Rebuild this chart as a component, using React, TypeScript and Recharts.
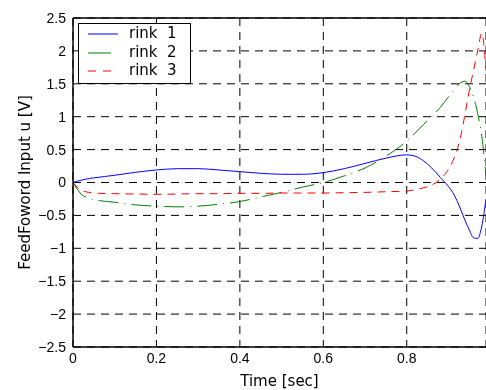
import { LineChart, Line, XAxis, YAxis, CartesianGrid, Legend, ReferenceLine } from "recharts";

const times = [0, 0.01, 0.02, 0.03, 0.05, 0.1, 0.15, 0.2, 0.25, 0.3, 0.35, 0.4, 0.45, 0.5, 0.55, 0.6, 0.65, 0.7, 0.75, 0.8, 0.82, 0.84, 0.86, 0.88, 0.9, 0.91, 0.92, 0.93, 0.94, 0.95, 0.96, 0.97, 0.98, 0.99];
const rink1 = [0, 0.02, 0.035, 0.05, 0.07, 0.11, 0.155, 0.19, 0.21, 0.21, 0.19, 0.165, 0.14, 0.125, 0.125, 0.15, 0.21, 0.29, 0.37, 0.42, 0.4, 0.33, 0.22, 0.08, -0.06, -0.15, -0.27, -0.42, -0.58, -0.72, -0.84, -0.85, -0.66, -0.25];
const rink2 = [0, -0.1, -0.18, -0.22, -0.26, -0.3, -0.34, -0.36, -0.37, -0.36, -0.33, -0.29, -0.22, -0.15, -0.07, 0, 0.1, 0.22, 0.4, 0.63, 0.75, 0.88, 1.0, 1.14, 1.3, 1.38, 1.46, 1.52, 1.54, 1.46, 1.3, 1.05, 0.7, 0.1];
const rink3 = [0, -0.07, -0.12, -0.14, -0.16, -0.17, -0.175, -0.18, -0.175, -0.17, -0.17, -0.165, -0.165, -0.16, -0.16, -0.16, -0.155, -0.15, -0.14, -0.13, -0.11, -0.08, -0.04, 0.05, 0.2, 0.32, 0.48, 0.72, 1.05, 1.4, 1.7, 2.0, 2.27, 1.7];

const xTicks = [0, 0.2, 0.4, 0.6, 0.8];
const yTicks = [-2.5, -2, -1.5, -1, -0.5, 0, 0.5, 1, 1.5, 2, 2.5];

const series = [
  { key: "rink1", label: "rink  1", color: "#0000ff", dash: undefined as string | undefined },
  { key: "rink2", label: "rink  2", color: "#008000", dash: "20 6 1 6" },
  { key: "rink3", label: "rink  3", color: "#ff0000", dash: "8 6" },
];

const data = times.map((t, i) => ({ t, rink1: rink1[i], rink2: rink2[i], rink3: rink3[i] }));

const fmt = (v: number) => (v < 0 ? "\u2212" + String(Math.abs(v)) : String(v));

const tickFont = { fontFamily: "'Liberation Sans', Arial, sans-serif", fontSize: 14, fill: "#000" };
const labelFont = "'DejaVu Sans', sans-serif";

function LegendBox() {
  return (
    <div
      style={{
        width: 111,
        height: 59,
        border: "1px solid #000",
        background: "#fff",
        position: "relative",
        fontFamily: labelFont,
        fontSize: 15,
        color: "#000",
      }}
    >
      {series.map((s, i) => {
        const cy = 10 + i * 18.5;
        return (
          <div key={s.key} style={{ position: "absolute", left: 0, top: cy - 9, height: 18, width: 111 }}>
            <svg width={44} height={18} style={{ position: "absolute", left: 0, top: 0 }}>
              <line
                x1={9}
                x2={i === 1 ? 32 : 39}
                y1={9}
                y2={9}
                stroke={s.color}
                strokeWidth={1}
                strokeDasharray={i === 2 ? "8 7" : undefined}
              />
            </svg>
            <span style={{ position: "absolute", left: 50, top: -1, whiteSpace: "pre", lineHeight: "18px" }}>
              {s.label}
            </span>
          </div>
        );
      })}
    </div>
  );
}

export default function App() {
  return (
    <div style={{ position: "fixed", left: 8, top: 8 }}>
      <LineChart width={478} height={382} data={data} margin={{ top: 10, right: 0, left: 0, bottom: 0 }}>
        <CartesianGrid stroke="#000" strokeDasharray="8 6" strokeWidth={1} />
        <XAxis
          dataKey="t"
          type="number"
          domain={[0, 0.99]}
          ticks={xTicks}
          tickFormatter={fmt}
          tick={tickFont}
          tickSize={0}
          tickMargin={6}
          height={43}
          axisLine={{ stroke: "#000", strokeWidth: 1.5 }}
          allowDataOverflow
          label={{ value: "Time [sec]", position: "insideBottom", offset: 4, fontFamily: labelFont, fontSize: 15, fill: "#000" }}
        />
        <YAxis
          type="number"
          domain={[-2.5, 2.5]}
          ticks={yTicks}
          tickFormatter={fmt}
          tick={tickFont}
          tickSize={0}
          tickMargin={7}
          width={65}
          axisLine={{ stroke: "#000", strokeWidth: 1.5 }}
          allowDataOverflow
          label={{ value: "FeedFoword Input u [V]", angle: -90, position: "center", dx: -16, fontFamily: labelFont, fontSize: 15, fill: "#000" }}
        />
        <ReferenceLine y={2.5} stroke="#000" strokeWidth={1.5} />
        {series.map((s) => (
          <Line
            key={s.key}
            dataKey={s.key}
            type="monotone"
            stroke={s.color}
            strokeWidth={1}
            strokeDasharray={s.dash}
            dot={false}
            isAnimationActive={false}
          />
        ))}
        <Legend
          layout="vertical"
          align="center"
          verticalAlign="middle"
          wrapperStyle={{ left: 70, top: 15, width: 113 }}
          content={() => <LegendBox />}
        />
      </LineChart>
    </div>
  );
}
